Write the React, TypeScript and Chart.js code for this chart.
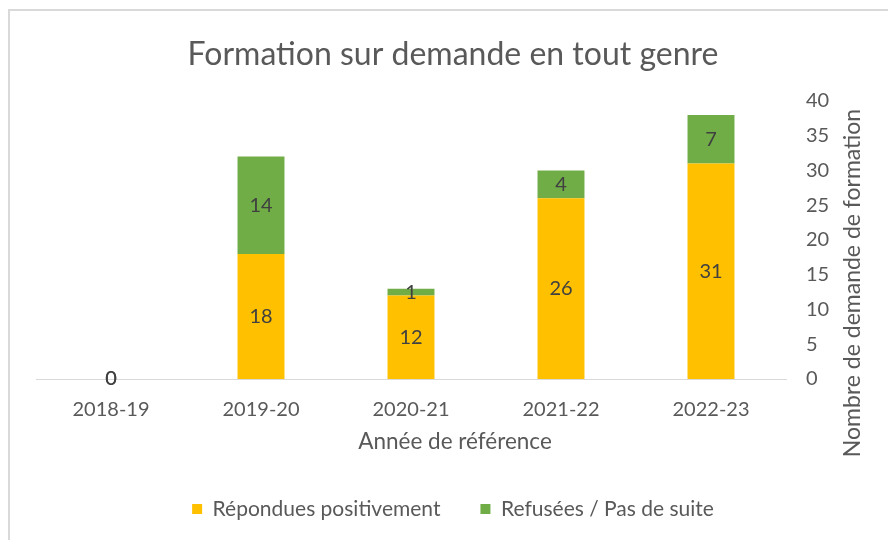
import React, { useEffect, useRef } from "react";
import { Chart, registerables } from "chart.js";

Chart.register(...registerables);

const categories = ["2018-19", "2019-20", "2020-21", "2021-22", "2022-23"];
const positives = [0, 18, 12, 26, 31];
const refused = [0, 14, 1, 4, 7];
const seriesNames = ["Répondues positivement", "Refusées / Pas de suite"];
const titleText = "Formation sur demande en tout genre";
const xTitle = "Année de référence";
const yTitle = "Nombre de demande de formation";
const yMin = 0;
const yMax = 40;
const yStep = 5;

const FONT = "Lato";
const TEXT = "#595959";
const YELLOW = "#FFC000";
const GREEN = "#70AD47";

const barLabelsPlugin = {
  id: "barLabels",
  afterDatasetsDraw(chart: any) {
    const ctx = chart.ctx;
    ctx.save();
    ctx.font = `20px ${FONT}`;
    ctx.fillStyle = "#404040";
    ctx.textAlign = "center";
    ctx.textBaseline = "middle";
    chart.data.datasets.forEach((ds: any, di: number) => {
      const meta = chart.getDatasetMeta(di);
      meta.data.forEach((bar: any, i: number) => {
        const { x, y, base } = bar.getProps(["x", "y", "base"], true);
        ctx.fillText(String(ds.data[i]), x, (y + base) / 2);
      });
    });
    ctx.restore();
  },
};

const axisTitlesPlugin = {
  id: "axisTitles",
  afterDraw(chart: any) {
    const ctx = chart.ctx;
    const a = chart.chartArea;
    ctx.save();
    ctx.fillStyle = TEXT;
    ctx.textAlign = "center";
    ctx.textBaseline = "middle";
    ctx.font = `22.5px ${FONT}`;
    ctx.fillText(xTitle, chart.width / 2 + 2, a.bottom + 63);
    ctx.font = `23px ${FONT}`;
    ctx.translate(a.right + 67, (a.top + a.bottom) / 2 + 43);
    ctx.rotate(-Math.PI / 2);
    ctx.fillText(yTitle, 0, 0);
    ctx.restore();
  },
};

export default function App() {
  const ref = useRef<HTMLCanvasElement | null>(null);

  useEffect(() => {
    let chart: Chart | null = null;
    let cancelled = false;
    const make = () => {
      if (cancelled || !ref.current) return;
      chart = new Chart(ref.current, {
        type: "bar",
        data: {
          labels: categories,
          datasets: [
            {
              label: seriesNames[0],
              data: positives,
              backgroundColor: YELLOW,
              barPercentage: 0.313,
              categoryPercentage: 1,
            },
            {
              label: seriesNames[1],
              data: refused,
              backgroundColor: GREEN,
              barPercentage: 0.313,
              categoryPercentage: 1,
            },
          ],
        },
        options: {
          responsive: false,
          animation: false,
          layout: { padding: { left: 0, right: 0, top: 0, bottom: 10.5 } },
          plugins: {
            title: {
              display: true,
              text: titleText,
              color: TEXT,
              font: { family: FONT, size: 32, weight: "normal", lineHeight: 1.2 },
              padding: { top: 35, bottom: 27.6 },
            },
            legend: {
              position: "bottom",
              labels: {
                color: TEXT,
                font: { family: FONT, size: 21 },
                boxWidth: 10,
                boxHeight: 10,
                padding: 40,
              },
            },
            tooltip: { enabled: false },
          },
          scales: {
            x: {
              stacked: true,
              grid: { display: false, drawTicks: false },
              border: { display: true, color: "#d9d9d9", width: 1 },
              ticks: { color: TEXT, font: { family: FONT, size: 20 }, padding: 19 },
              afterFit: (s: any) => {
                s.height = 79.5;
              },
            },
            y: {
              stacked: true,
              position: "right",
              min: yMin,
              max: yMax,
              ticks: { stepSize: yStep, color: TEXT, font: { family: FONT, size: 20 }, padding: 20 },
              grid: { display: false, drawTicks: false },
              border: { display: false },
              afterFit: (s: any) => {
                s.width = 120;
              },
            },
            yl: {
              position: "left",
              display: true,
              grid: { display: false, drawTicks: false },
              border: { display: false },
              ticks: { display: false },
              afterFit: (s: any) => {
                s.width = 36;
              },
            },
          },
        },
        plugins: [barLabelsPlugin, axisTitlesPlugin],
      } as any);
    };
    const fonts = (document as any).fonts;
    if (fonts && fonts.load) {
      Promise.all([fonts.load(`20px ${FONT}`), fonts.load(`32px ${FONT}`)])
        .catch(() => {})
        .then(make);
    } else {
      make();
    }
    return () => {
      cancelled = true;
      if (chart) chart.destroy();
    };
  }, []);

  return (
    <div
      style={{
        position: "fixed",
        left: 0,
        top: 0,
        width: 888,
        height: 540,
        overflow: "hidden",
        background: "#fff",
      }}
    >
      <div
        style={{
          position: "absolute",
          left: 8,
          top: 9,
          width: 960,
          height: 600,
          border: "2px solid #d9d9d9",
          boxSizing: "border-box",
        }}
      />
      <canvas
        ref={ref}
        width={906}
        height={540}
        style={{ position: "absolute", left: 0, top: 0, width: 906, height: 540 }}
      />
    </div>
  );
}
